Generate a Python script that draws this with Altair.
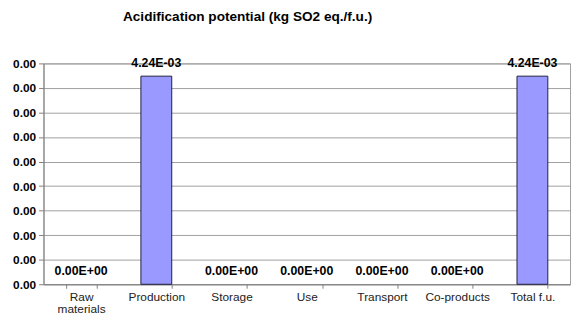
import altair as alt
import pandas as pd

categories = ["Raw materials", "Production", "Storage", "Use", "Transport", "Co-products", "Total f.u."]
values = [0.0, 4.24e-3, 0.0, 0.0, 0.0, 0.0, 4.24e-3]
y_ticks = [0.0, 0.0005, 0.001, 0.0015, 0.002, 0.0025, 0.003, 0.0035, 0.004, 0.0045]

df = pd.DataFrame({
    "cat": categories,
    "value": values,
    "label": [f"{v:.2E}" for v in values],
})

FONT = "Liberation Sans"

x_enc = alt.X(
    "cat:N",
    sort=categories,
    scale=alt.Scale(paddingInner=0.59, paddingOuter=0.295),
    axis=alt.Axis(
        title=None,
        labelAngle=0,
        tickBand="extent",
        tickSize=4,
        tickColor="#808080",
        domainColor="#808080",
        labelFont=FONT,
        labelFontSize=12,
        labelColor="#222222",
        labelPadding=3,
        labelLineHeight=13,
        labelOverlap=False,
        labelExpr="datum.label == 'Raw materials' ? ['Raw', 'materials'] : datum.label",
        grid=False,
    ),
)

y_enc = alt.Y(
    "value:Q",
    scale=alt.Scale(domain=[0, 0.0045], nice=False),
    axis=alt.Axis(
        title=None,
        values=y_ticks,
        tickCount=20,
        format=".2f",
        labelFont=FONT,
        labelFontSize=12,
        labelFontWeight="bold",
        labelColor="#000000",
        labelOverlap=False,
        tickSize=5,
        tickColor="#808080",
        domainColor="#808080",
        labelPadding=3,
        grid=True,
        gridColor="#a0a0a0",
        gridWidth=1,
    ),
)

base = alt.Chart(df)

bars = base.mark_bar(color="#9999ff", strokeWidth=1).encode(
    x=x_enc,
    y=y_enc,
    stroke=alt.condition("datum.value > 0", alt.value("#1f1f3f"), alt.value("transparent")),
)

text = base.mark_text(
    font=FONT, fontSize=12.5, fontWeight="bold", color="#000000", dy=-9, baseline="alphabetic"
).encode(x=alt.X("cat:N", sort=categories), y="value:Q", text="label:N")

chart = (
    alt.layer(bars, text)
    .properties(
        width=534,
        height=224,
        autosize=alt.AutoSizeParams(type="none"),
        padding={"left": 36, "top": 54, "right": 1, "bottom": 31},
        title=alt.TitleParams(
            "Acidification potential (kg SO2 eq./f.u.)",
            font=FONT,
            fontSize=13.8,
            fontWeight="bold",
            color="#000000",
            anchor="middle",
            dx=-60,
            offset=34,
        ),
    )
    .configure_view(stroke="#a0a0a0")
)

chart.save("out.html", embed_options={"renderer": "svg", "actions": False})
